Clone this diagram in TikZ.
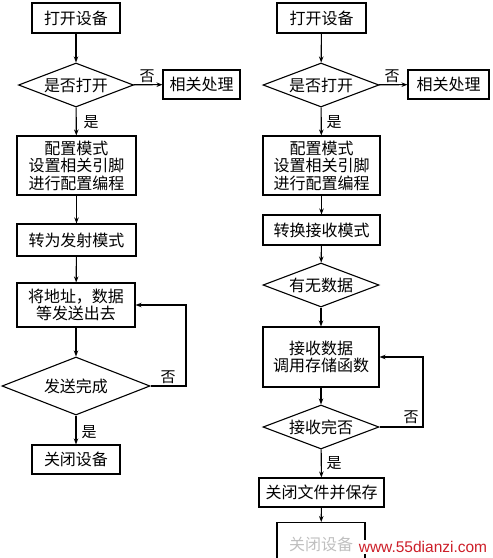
\documentclass[tikz,border=0pt]{standalone}
\usepackage{fontspec}
\newfontfamily\cjk{Noto Sans CJK SC}
\setmainfont{Liberation Sans}
\usetikzlibrary{arrows.meta,shapes.geometric}
\begin{document}
\begin{tikzpicture}[x=1pt,y=-1pt,
  box/.style={draw,line width=1.1pt,inner sep=0pt,font=\cjk\fontsize{16}{17.5}\selectfont,align=center},
  dia/.style={draw,diamond,aspect=2.6,inner sep=0pt,line width=1.1pt,font=\cjk\fontsize{16}{17.5}\selectfont},
  arr/.style={line width=1.1pt,-{Stealth[length=6pt,width=4.5pt]}},
  lab/.style={font=\cjk\fontsize{15}{15}\selectfont,inner sep=0pt}]
\useasboundingbox (0,0) rectangle (493,558);
% left column
\node[box,minimum width=88pt,minimum height=30pt] (L1) at (76,18) {打开设备};
\node[dia,minimum width=115pt,minimum height=44pt] (LD1) at (76,85) {是否打开};
\node[box,minimum width=77pt,minimum height=29pt] (LR) at (201.5,84.5) {相关处理};
\node[box,minimum width=119pt,minimum height=59pt] (L2) at (76.5,165.5) {配置模式\\设置相关引脚\\进行配置编程};
\node[box,minimum width=119pt,minimum height=32pt] (L3) at (76.5,240) {转为发射模式};
\node[box,minimum width=118pt,minimum height=44pt] (L4) at (76,305) {将地址，数据\\等发送出去};
\node[dia,minimum width=148pt,minimum height=58pt] (LD2) at (76,386) {发送完成};
\node[box,minimum width=88pt,minimum height=29pt] (L5) at (76,459.5) {关闭设备};
\coordinate (LF) at (186,386);
\draw[arr] (L1) -- (LD1);
\draw[arr] (LD1) -- (LR);
\draw[arr] (LD1) -- (L2);
\draw[arr] (L2) -- (L3);
\draw[arr] (L3) -- (L4);
\draw[arr] (L4) -- (LD2);
\draw[arr] (LD2) -- (L5);
\draw[arr] (LD2.east) -- (LF) |- (L4.east);
\node[lab] (LN1) at (147,76) {否};
\node[lab] (LY1) at (91,122) {是};
\node[lab] (LN2) at (168,377) {否};
\node[lab] (LY2) at (89,432) {是};
% right column
\node[box,minimum width=89pt,minimum height=30pt] (R1) at (321.5,18) {打开设备};
\node[dia,minimum width=116pt,minimum height=44pt] (RD1) at (321,85) {是否打开};
\node[box,minimum width=81pt,minimum height=29pt] (RR) at (448.5,84.5) {相关处理};
\node[box,minimum width=117pt,minimum height=59pt] (R2) at (321.5,165.5) {配置模式\\设置相关引脚\\进行配置编程};
\node[box,minimum width=117pt,minimum height=30pt] (R3) at (321.5,230) {转换接收模式};
\node[dia,minimum width=116pt,minimum height=44pt] (RD2) at (321,285) {有无数据};
\node[box,minimum width=116pt,minimum height=60pt] (R4) at (321,357) {接收数据\\调用存储函数};
\node[dia,minimum width=116pt,minimum height=44pt] (RD3) at (321,427) {接收完否};
\node[box,minimum width=125pt,minimum height=29pt] (R5) at (321.5,492.5) {关闭文件并保存};
\node[box,minimum width=88pt,minimum height=46pt,text=black!25,anchor=north] (R6) at (321,522) {\raisebox{4pt}{关闭设备}};
\coordinate (RF) at (423,427);
\draw[arr] (R1) -- (RD1);
\draw[arr] (RD1) -- (RR);
\draw[arr] (RD1) -- (R2);
\draw[arr] (R2) -- (R3);
\draw[arr] (R3) -- (RD2);
\draw[arr] (RD2) -- (R4);
\draw[arr] (R4) -- (RD3);
\draw[arr] (RD3) -- (R5);
\draw[arr] (R5) -- (R6);
\draw[arr] (RD3.east) -- (RF) |- (R4.east);
\node[lab] (RN1) at (392,76) {否};
\node[lab] (RY1) at (334,122) {是};
\node[lab] (RN2) at (411,417) {否};
\node[lab] (RY2) at (334,463) {是};
% watermark
\node[fill=white,inner sep=1pt,text={rgb,255:red,205;green,30;blue,40},font=\fontsize{15.5}{16}\selectfont] (WM) at (423,547) {www.55dianzi.com};
\end{tikzpicture}
\end{document}
